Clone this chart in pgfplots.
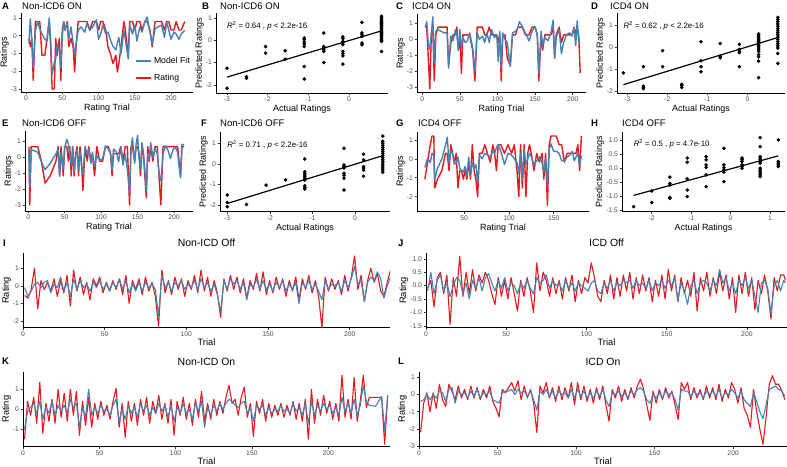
\documentclass[border=0pt]{standalone}
\usepackage{fontspec}
\setmainfont{Liberation Sans}
\usepackage{pgfplots}
\usepackage{pgfplotstable}
\pgfplotsset{compat=1.18}
\definecolor{ratingred}{RGB}{228,26,28}
\definecolor{fitblue}{RGB}{70,130,180}
\definecolor{tickgray}{RGB}{77,77,77}

\tikzset{statlabel/.style={anchor=west, inner sep=0pt, font=\fontsize{7.9}{8}\selectfont}}
\pgfplotsset{
  panel/.style={
    scale only axis, anchor=south west,
    axis lines*=left,
    axis line style={black, line width=0.7bp},
    tick style={black!80, line width=0.6bp},
    major tick length=2.3bp,
    tick align=outside,
    ticklabel style={font=\fontsize{6.8}{7}\selectfont, text=tickgray, inner sep=1.5bp},
    /pgf/number format/assume math mode=true,
    label style={font=\fontsize{9}{10}\selectfont, inner sep=0pt},
    xlabel shift=2bp, ylabel shift=0.6bp,
  },
  wide/.style={panel, label style={font=\fontsize{9.3}{10}\selectfont}, xlabel shift=1bp},
  ratingline/.style={ratingred, line width=1.4bp, line join=round},
  fitline/.style={fitblue, line width=1.4bp, line join=round},
  ratingthin/.style={ratingred, line width=1.1bp, line join=round},
  fitthin/.style={fitblue, line width=1.1bp, line join=round},
  dots/.style={only marks, mark=*, mark size=1.6bp, black},
  regline/.style={black, line width=1.2bp},
}

% trial-by-trial ratings (r) and model fit (f)
\pgfplotstableread{
t r f
4 -0.15 -0.45
6 -0.62 0.95
8 -0.15 -0.2
10 -2.52 -1.8
13 0.8 0.3
16 0.8 0.8
19 0.8 0.4
22 -1.1 0.1
26 -1.1 -0.2
29 -0.15 -0.3
32 0.8 1.0
34 -0.62 -0.2
36 -3.0 -2.2
39 -3.0 -1.5
41 -0.15 -1.3
43 -1.1 -0.5
46 -0.15 -0.8
48 -2.52 -1.8
50 0.32 -0.1
52 0.8 0.8
54 0.32 0.3
57 0.8 0.7
59 -0.62 -0.2
62 -0.15 0.5
65 -0.62 -0.4
67 -2.05 -1.1
69 -0.62 -0.5
72 0.8 0.3
76 0.8 0.5
81 0.8 0.2
84 0.8 0.7
88 0.32 0.3
92 0.8 0.5
97 0.8 0.9
100 0.32 -0.2
103 0.8 0.1
106 0.8 0.6
110 0.32 0.1
113 -0.62 0.2
117 -1.1 -0.3
120 -1.57 -0.6
124 -1.1 -0.8
126 -2.05 -0.4
128 -1.57 -0.1
131 -0.62 -1.0
135 0.8 0.3
137 0.32 -0.2
141 -1.1 -1.3
143 0.8 0.6
147 0.8 0.1
150 0.32 0.6
153 0.8 -0.3
157 0.8 0.5
160 0.32 0.2
164 0.8 0.8
167 0.8 1.05
171 0.32 0.2
174 -0.62 -0.5
178 0.8 0.4
182 0.8 0.5
187 0.8 0.6
191 0.32 -0.1
194 0.8 0.8
197 0.8 0.3
200 0.32 -0.2
204 0.32 0.2
207 0.8 0.1
211 0.32 -0.2
214 0.32 0.1
219 0.8 0.3
}\tabA

\pgfplotstableread{
t r f
4 0.76 0.75
6 0.76 1.1
8 -1.16 -0.3
10 -3.1 -0.6
12 0.28 0.3
14 0.76 1.4
16 -2.6 -1.5
18 0.28 0.5
21 0.76 0.6
25 0.76 0.5
29 0.76 0.4
33 0.76 0.4
35 -1.64 -1.8
38 -0.2 0.2
41 0.28 -0.1
44 0.28 0.6
46 0.76 0.3
48 -0.68 -0.7
50 0.28 0.6
52 -2.12 -0.5
54 0.28 0.1
57 0.28 -0.2
60 0.28 -0.1
63 0.28 0.4
67 -0.68 -0.5
70 -2.6 -2.0
73 0.76 0.4
76 0.76 0.0
80 0.76 0.2
83 0.28 -0.2
86 0.28 0.4
89 0.76 -0.2
92 0.28 0.6
96 0.28 0.1
99 0.28 0.3
101 -0.2 -1.4
103 0.28 0.5
105 -2.6 -1.8
107 0.28 0.4
110 0.28 0.0
113 -1.16 -0.2
117 -1.64 -1.7
120 0.28 0.4
124 0.28 0.5
127 0.76 0.7
129 0.76 1.1
133 0.76 0.8
137 0.28 0.4
142 0.28 -0.1
146 0.76 0.5
150 0.76 0.8
153 0.28 0.2
155 -2.6 -2.1
158 0.28 0.5
160 -0.68 -0.4
163 0.28 0.1
167 0.28 -0.1
171 0.28 0.4
174 0.76 1.2
176 -1.16 -1.2
178 0.28 0.1
182 0.76 0.6
185 -0.2 -0.9
188 0.28 -0.2
192 0.28 0.3
196 0.28 0.4
199 0.28 0.2
202 0.76 0.7
204 0.28 -0.4
206 0.76 1.15
208 0.28 -0.1
210 -2.12 -0.2
}\tabC

\pgfplotstableread{
t r f
1 0.65 0.4
2 -3.0 -1.9
4 0.65 0.45
8 0.65 0.4
13 0.65 0.3
18 -0.26 -0.3
23 -1.63 -0.8
30 -1.18 -0.4
38 -0.26 0.2
41 0.65 0.5
43 -1.18 -1.2
45 0.65 0.3
48 -1.18 -0.8
50 0.65 0.6
53 0.65 1.1
55 -0.26 0.8
57 0.65 0.2
59 -1.18 -0.5
61 0.65 0.6
63 -1.18 -0.9
65 0.2 0.1
67 0.65 0.5
69 -1.18 -0.8
71 0.65 0.3
73 -0.26 -0.5
75 -2.09 -1.1
78 0.65 0.6
81 -0.26 0.2
83 0.65 0.5
86 -0.26 -0.4
88 0.2 0.3
91 -1.18 -0.6
94 0.65 0.1
98 -0.26 -0.2
102 -0.26 -0.1
106 0.65 0.7
110 0.65 0.5
113 0.2 0.2
115 -1.18 -0.8
117 0.2 0.5
121 0.2 0.3
124 0.2 -0.3
127 0.65 0.6
130 -0.26 -0.5
133 0.65 0.2
136 0.65 -0.8
139 -3.0 -2.2
141 0.65 0.5
143 0.65 1.2
146 -0.26 -0.4
148 0.65 0.8
150 0.65 1.35
152 0.2 0.0
154 -1.18 -0.8
156 0.65 0.9
158 0.2 0.3
160 -1.18 -0.8
162 -2.55 -2.1
164 0.65 0.2
166 -0.26 -0.2
168 0.65 0.9
171 -0.26 0.0
174 0.65 0.5
177 0.65 0.2
180 -1.63 -1.2
182 -3.0 -1.5
185 0.65 0.2
188 0.65 0.7
192 0.65 0.4
195 0.65 -0.1
199 0.65 0.5
202 0.65 0.6
205 0.65 0.3
207 -0.26 -0.6
209 -1.18 -1.3
211 0.65 0.8
214 0.65 0.75
}\tabE

\pgfplotstableread{
t r f
6 -1.08 -0.45
9 -0.17 0.0
12 0.75 -0.2
14 1.21 0.3
16 1.21 0.2
17 -1.54 -1.1
20 -1.08 -0.5
25 -0.62 0.0
29 0.29 0.7
31 0.29 1.15
33 -0.62 -0.2
35 0.75 0.4
37 0.29 0.3
39 -0.17 -0.3
41 0.29 -0.2
43 -1.54 0.1
45 -0.62 -0.5
47 -0.62 -0.6
49 -1.08 -0.7
51 -0.62 -0.4
53 -1.08 -0.9
55 -0.17 0.1
57 -1.08 -0.9
59 0.75 -0.2
61 -0.62 -0.5
63 -1.08 -0.3
65 -2.0 -1.3
67 0.29 0.2
70 0.29 0.0
73 0.75 0.3
76 0.29 0.2
79 -0.17 0.1
82 0.75 0.4
84 0.29 0.3
86 -0.62 0.6
88 0.75 0.75
91 0.75 0.4
95 0.29 -0.3
99 0.75 0.3
103 0.29 0.2
106 0.75 0.0
109 -0.62 -0.2
111 -2.0 -0.8
113 0.75 0.3
115 -1.54 -1.1
117 0.75 0.5
119 -2.0 -0.3
121 0.29 0.0
123 0.75 0.3
125 0.29 0.1
128 -0.62 -0.3
131 0.29 -0.1
134 -0.17 0.1
137 0.29 -0.2
139 -1.08 -0.7
141 0.29 0.0
143 -2.46 -1.4
145 0.75 0.5
147 1.21 0.8
150 1.21 0.4
153 1.21 0.4
156 0.75 0.3
159 0.75 -0.1
162 -0.17 -0.1
165 0.29 0.1
168 0.29 0.2
171 0.29 0.4
173 0.29 -0.1
175 0.29 0.1
177 0.75 0.3
179 -0.62 -0.3
181 1.21 0.15
}\tabG

\pgfplotstableread{
t r f
1 -0.55 -0.1
3 -0.7 -0.6
5 -0.2 -0.3
7 1.0 0.1
9 -1.3 0.2
11 0.3 -0.1
13 -0.2 0.2
15 0.2 0.3
17 -0.3 -0.4
19 0.4 0.1
21 -0.6 -0.1
23 0.3 0.5
25 -0.4 -0.3
27 0.6 0.2
29 -1.15 -0.6
31 0.9 0.4
33 -0.3 -0.2
35 0.5 0.3
37 -0.5 -0.1
39 0.2 0.1
41 -0.8 -0.3
43 0.4 0.2
45 0.0 -0.1
47 0.5 0.3
49 -0.4 -0.2
51 0.2 0.1
53 -0.3 -0.3
55 0.3 0.2
57 -0.2 -0.1
59 0.4 0.4
61 -0.5 -0.2
63 0.6 0.3
65 -1.0 -0.4
67 0.3 0.1
69 -0.2 -0.3
71 0.4 0.2
73 -0.5 -0.3
75 0.5 0.2
77 -0.3 -0.1
79 0.2 0.1
81 -0.6 -0.2
83 -2.3 -1.7
85 0.9 0.6
87 -0.4 -0.1
89 0.3 0.2
91 -0.5 -0.3
93 0.5 0.2
95 -0.2 0.0
97 0.4 0.3
99 -0.6 -0.2
101 0.3 0.1
103 -0.2 -0.1
105 0.6 0.3
107 -0.4 -0.2
109 0.9 0.4
111 -0.3 -0.1
113 0.5 0.2
115 -0.6 -0.3
117 0.3 0.1
119 -0.4 -0.5
121 -1.8 -1.5
123 0.4 0.3
125 -0.3 -0.2
127 0.6 0.4
129 -0.2 0.1
131 0.5 0.3
133 -0.4 -0.2
135 0.4 0.2
137 -0.7 -0.8
139 0.3 0.1
141 -0.2 -0.1
143 0.7 0.4
145 -0.3 -0.2
147 0.8 0.3
149 -0.5 -0.2
151 0.3 0.1
153 -0.4 -0.3
155 0.5 0.2
157 -0.2 -0.1
159 0.4 0.3
161 -0.6 -0.3
163 0.3 0.1
165 -0.3 -0.2
167 0.5 0.2
169 -0.8 -1.0
171 0.4 0.2
173 -0.2 -0.1
175 0.6 0.3
177 -0.4 -0.2
179 0.3 0.1
181 -0.6 -0.3
183 -2.4 -0.8
185 0.5 0.3
187 -0.3 -0.2
189 0.4 0.1
191 -0.2 0.0
193 0.3 0.2
195 -0.5 -0.3
197 0.6 0.3
199 -0.3 -0.1
201 0.5 0.4
203 1.7 1.1
205 -0.2 0.1
207 0.6 0.3
209 -0.9 -0.9
211 0.3 0.2
213 1.0 0.5
215 0.2 0.3
217 0.7 0.8
219 -0.3 0.4
221 -0.6 -0.7
223 0.2 0.0
225 0.9 0.5
}\tabI

\pgfplotstableread{
t r f
1 -0.1 -0.2
3 0.2 0.5
5 -0.8 -0.3
7 0.3 0.2
9 0.5 0.4
11 -0.3 -0.2
13 0.4 0.1
15 -1.45 -0.4
17 0.3 0.0
19 -0.4 0.3
21 1.1 0.2
23 -0.4 -0.3
25 0.5 0.1
27 -0.3 -0.5
29 0.6 0.2
31 -0.2 -0.1
33 0.4 0.3
35 0.1 -0.2
37 0.5 0.3
39 0.2 0.45
41 -0.3 0.1
43 -0.7 -0.2
45 0.3 0.2
47 -0.4 -0.1
49 0.2 0.3
51 -0.5 -0.2
53 0.3 0.1
55 -0.3 0.0
57 -0.95 -0.3
59 0.2 0.1
61 -0.4 -0.1
63 0.3 0.2
65 -0.2 -0.1
67 -1.0 -0.3
69 0.85 0.3
71 -0.2 0.1
73 0.5 0.2
75 0.2 0.4
77 -0.4 -0.1
79 0.3 0.2
81 -0.3 0.0
83 0.2 0.1
85 -0.5 -0.2
87 0.3 0.2
89 -0.2 -0.1
91 0.4 0.1
93 -0.6 -0.2
95 0.2 0.1
97 -0.3 0.0
99 0.3 -0.1
101 0.1 -0.2
103 0.85 0.1
105 0.3 0.2
107 -0.4 -0.2
109 -0.6 -0.3
111 0.2 0.1
113 -0.3 -0.1
115 0.4 0.2
117 -0.5 -0.2
119 0.3 0.1
121 -0.4 0.0
123 0.4 0.2
125 -0.2 0.1
127 0.5 0.2
129 -0.5 -0.1
131 0.3 0.2
133 -0.3 0.0
135 0.4 0.1
137 -0.2 -0.1
139 0.3 0.2
141 -0.6 -0.2
143 0.2 0.1
145 -0.4 0.0
147 0.4 0.2
149 -0.5 -0.1
151 0.6 0.2
153 -0.2 0.0
155 0.4 0.3
157 -0.6 -0.55
159 0.3 0.1
161 -0.3 -0.2
163 0.2 -0.7
165 -0.4 0.0
167 0.5 0.2
169 -0.95 -0.3
171 0.3 0.1
173 -0.2 0.2
175 0.5 0.1
177 -0.4 -0.2
179 0.3 0.2
181 -0.3 0.0
183 0.5 0.6
185 -0.2 0.1
187 0.4 0.3
189 -0.5 -0.2
191 0.3 0.1
193 -1.0 -0.3
195 0.4 0.2
197 -0.3 0.0
199 0.5 0.3
201 -0.4 -0.1
203 0.3 0.2
205 -0.9 -0.4
207 0.2 -1.0
209 -0.3 0.1
211 0.4 0.2
213 -0.2 -0.1
215 -1.25 -1.05
217 0.3 0.0
219 -0.2 0.2
221 0.4 -0.2
223 0.4 0.2
224 0.2 0.1
}\tabJ

\pgfplotstableread{
t r f
1 -1.5 -1.0
3 0.4 -0.1
5 -0.3 0.1
7 0.6 0.3
9 -0.7 -0.2
11 1.35 0.4
13 -1.2 -0.5
15 0.3 0.1
17 -0.6 -0.2
19 0.5 0.4
21 -0.7 -0.3
23 1.0 0.2
25 -0.4 -0.1
27 0.8 0.2
29 -0.6 -0.2
31 1.0 0.5
33 -0.3 0.1
35 0.9 0.3
37 -1.3 -0.9
39 0.4 0.1
41 -0.8 -0.4
43 0.6 1.0
45 -0.9 -0.3
47 0.3 0.1
49 -0.5 -0.2
51 0.4 0.2
53 -0.3 -0.1
55 0.2 0.0
57 -0.5 -0.3
59 0.4 0.2
61 1.05 0.5
63 -0.9 -0.6
65 0.3 0.0
67 -1.4 -0.5
69 0.4 0.2
71 -0.6 -0.2
73 0.3 0.1
75 -0.8 -0.4
77 0.5 0.3
79 -0.3 -0.1
81 0.6 0.2
83 -0.7 -0.3
85 0.4 0.1
87 -0.2 -0.2
89 0.7 0.3
91 -0.5 -0.1
93 0.3 0.2
95 -0.7 -0.4
97 0.5 0.2
99 -1.3 -0.6
101 0.4 0.1
103 -0.3 -0.2
105 0.6 0.3
107 -0.5 -0.2
109 0.3 0.0
111 -0.8 -0.5
113 0.5 0.3
115 -0.4 -0.1
117 0.9 0.4
119 -0.6 -0.9
121 0.3 0.1
123 -0.5 -0.3
125 0.5 0.2
127 -0.3 -0.1
129 0.4 0.3
131 -0.2 0.0
133 0.6 0.3
135 1.2 0.5
137 0.3 0.4
139 0.5 0.2
141 -0.3 0.1
143 0.6 0.3
145 1.1 0.4
147 -0.4 -0.2
149 0.3 0.1
151 -1.35 -0.6
153 0.4 0.2
155 -0.2 0.0
157 0.5 0.2
159 -0.6 -0.3
161 0.3 0.1
163 -0.4 -0.2
165 0.2 0.0
167 -0.3 -0.1
169 0.3 0.2
171 -0.4 -0.1
173 0.2 0.0
175 -0.3 -0.2
177 0.4 0.3
179 -0.5 -0.1
181 0.3 0.1
183 -0.6 -0.3
185 0.5 0.3
187 -1.5 -0.7
189 1.0 0.4
191 -0.7 -0.3
193 0.5 0.2
195 -0.3 -0.1
197 0.7 0.3
199 -0.2 0.0
201 0.4 0.2
203 -0.5 -0.2
205 0.3 0.1
207 -0.6 -0.3
209 1.7 0.6
211 -0.4 -0.1
213 0.5 0.3
215 -0.5 -0.2
217 1.6 0.5
219 -0.6 -0.3
221 0.4 0.2
223 1.7 1.2
225 0.1 0.4
227 0.6 0.2
231 0.6 0.15
235 0.6 0.65
237 -1.75 -1.1
239 0.7 0.7
}\tabK

\pgfplotstableread{
t r f
1 -2.2 -0.4
3 -0.5 -0.3
5 0.1 0.0
7 -1.0 -0.3
9 0.1 0.0
11 -0.8 -0.2
13 0.6 0.2
15 -0.3 0.1
17 -0.7 -0.4
19 0.6 0.3
21 0.2 0.4
23 -0.3 -0.5
25 0.5 0.2
27 -0.2 0.0
29 0.3 0.1
31 -0.3 -0.2
33 0.5 0.2
35 -0.2 -0.1
37 0.4 0.3
39 -0.3 -0.2
41 0.3 0.1
43 -0.2 0.0
45 0.5 0.2
47 -0.4 -0.3
49 -0.8 -0.4
51 -1.3 -0.5
53 0.3 0.1
55 0.1 0.2
57 0.4 0.2
59 0.7 0.3
61 0.2 0.0
63 0.8 0.3
65 -0.3 0.1
67 0.5 0.2
69 -0.2 -0.1
71 0.3 0.2
73 -0.5 -0.3
75 -2.2 -0.9
77 0.5 0.2
79 0.1 0.0
81 0.7 0.3
83 -0.2 -0.1
85 0.4 0.2
87 -0.4 -0.2
89 0.5 0.2
91 -0.3 0.0
93 0.4 0.1
95 -0.2 -0.2
97 0.7 0.3
99 -0.6 -0.2
101 0.7 0.3
103 -0.3 -0.1
105 0.5 0.2
107 -0.4 -0.2
109 0.3 0.1
111 -0.5 -0.2
113 0.4 0.2
115 -0.3 -0.1
117 0.5 0.3
119 -0.6 -0.3
121 -1.55 -0.7
123 0.3 0.1
125 -0.2 0.0
127 0.5 0.2
129 -0.4 -0.1
131 0.3 0.1
133 -0.3 -0.2
135 0.4 0.2
137 -0.2 0.0
139 0.5 0.3
141 0.9 0.4
143 0.3 0.2
145 -0.6 -0.3
147 -1.5 -0.5
149 0.2 0.0
151 -0.5 -0.2
153 0.3 0.1
155 -0.3 -0.2
157 0.4 0.2
159 -0.2 0.0
161 0.2 0.1
163 -0.6 -0.3
165 -1.45 -0.9
167 0.7 0.3
169 0.3 0.2
171 0.7 0.2
173 -0.3 -0.1
175 0.4 0.2
177 -0.2 0.0
179 0.3 0.1
181 -0.3 -0.2
183 0.5 0.2
185 -0.2 0.0
187 0.4 0.2
189 -0.3 -0.1
191 0.6 0.3
193 -0.4 -0.2
195 0.3 0.1
197 -0.2 0.0
199 0.7 0.3
201 0.3 0.1
203 -0.5 -0.2
205 0.4 0.2
207 -0.8 -0.3
209 -1.2 -0.5
211 -1.9 -0.7
213 0.3 0.1
215 -1.0 -0.4
217 -2.0 -1.0
219 -2.9 -1.4
221 -1.3 -0.6
223 0.6 0.3
225 1.1 0.4
227 0.6 0.5
229 0.6 0.3
231 0.2 0.2
233 -0.3 -0.1
}\tabL

\begin{document}
\begin{tikzpicture}
\useasboundingbox (0bp,0bp) rectangle (787bp,467bp);

% ---------- row 1 ----------
\begin{axis}[panel, at={(21bp,375bp)}, width=172bp, height=79bp,
  xmin=-6.9, xmax=230.3, ymin=-3.17, ymax=1.28,
  xtick={0,50,100,150,200}, ytick={-3,-2,-1,0,1},
  xlabel={Rating Trial}, ylabel={Ratings},
  legend style={draw=none, fill=none, at={(0.663,0.47)}, anchor=north west,
    font=\fontsize{8.7}{9}\selectfont, row sep=5bp, inner sep=0pt,
    cells={anchor=west}},
  legend image code/.code={\draw[#1, line width=1.8bp] (0bp,0bp) -- (15bp,0bp);}]
\addlegendimage{fitline}\addlegendentry{Model Fit}
\addlegendimage{ratingline}\addlegendentry{Rating}
\addplot[ratingline, forget plot] table[x=t, y=r]{\tabA};
\addplot[fitline, forget plot] table[x=t, y=f]{\tabA};
\end{axis}

\begin{axis}[panel, at={(216bp,374bp)}, width=172bp, height=80bp,
  xmin=-3.27, xmax=0.96, ymin=-2.36, ymax=1.22,
  xtick={-3,-2,-1,0}, ytick={-2,-1,0,1},
  xlabel={Actual Ratings}, ylabel={Predicted Ratings}]
\addplot[dots] coordinates {
(-3,-1.25) (-3,-2.15) (-2.52,-1.63) (-2.52,-1.7) (-2.05,-0.28) (-2.05,-0.58)
(-1.57,-0.47) (-1.57,-0.85)
(-1.1,0.1) (-1.1,0.03) (-1.1,-0.08) (-1.1,-0.17) (-1.1,-0.28) (-1.1,-1.17) (-1.1,-1.73)
(-0.62,0.32) (-0.62,-0.28) (-0.62,-0.35) (-0.62,-0.43) (-0.62,-0.5) (-0.62,-1.0)
(-0.15,0.15) (-0.15,0.07) (-0.15,-0.05) (-0.15,-0.12) (-0.15,-0.2) (-0.15,-0.5) (-0.15,-0.6) (-0.15,-0.7) (-0.15,-1.07)
(0.32,0.8) (0.32,0.33) (0.32,0.25) (0.32,0.17) (0.32,-0.12) (0.32,-0.2)
(0.8,1.07) (0.8,1.0) (0.8,0.95) (0.8,0.9) (0.8,0.85) (0.8,0.8) (0.8,0.75) (0.8,0.7) (0.8,0.65) (0.8,0.6)
(0.8,0.55) (0.8,0.5) (0.8,0.45) (0.8,0.4) (0.8,0.35) (0.8,0.3) (0.8,0.25) (0.8,0.2) (0.8,0.15) (0.8,0.1)
(0.8,0.05) (0.8,0.0) (0.8,-0.05) (0.8,-0.5)};
\addplot[regline] coordinates {(-3,-1.65) (0.8,0.42)};
\node[statlabel] at (axis cs:-3,0.64) {\textit{R}\textsuperscript{2} = 0.64 , \textit{p} < 2.2e-16};
\end{axis}

\begin{axis}[panel, at={(417bp,374.4bp)}, width=169bp, height=78.6bp,
  xmin=-7, xmax=217.7, ymin=-3.33, ymax=1.58,
  xtick={0,50,100,150,200}, ytick={-3,-2,-1,0,1},
  xlabel={Rating Trial}, ylabel={Ratings}]
\addplot[ratingline] table[x=t, y=r]{\tabC};
\addplot[fitline] table[x=t, y=f]{\tabC};
\end{axis}

\begin{axis}[panel, at={(617bp,374bp)}, width=168bp, height=80bp,
  xmin=-3.26, xmax=0.94, ymin=-2.1, ymax=1.55,
  xtick={-3,-2,-1,0}, ytick={-2,-1,0,1},
  xlabel={Actual Ratings}, ylabel={Predicted Ratings}]
\addplot[dots] coordinates {
(-3.1,-1.18) (-2.6,-0.9) (-2.6,-1.79) (-2.6,-1.85) (-2.6,-1.9) (-2.12,-0.17) (-2.12,-0.9)
(-1.64,-1.7) (-1.64,-1.76) (-1.64,-1.85)
(-1.16,0.24) (-1.16,-0.63) (-1.16,-0.9) (-1.16,-1.13)
(-0.68,0.16) (-0.68,-0.42) (-0.68,-0.49)
(-0.2,0.12) (-0.2,-0.11) (-0.2,-0.19) (-0.2,-0.26) (-0.2,-0.9)
(0.28,0.6) (0.28,0.55) (0.28,0.5) (0.28,0.45) (0.28,0.4) (0.28,0.35) (0.28,0.3) (0.28,0.25) (0.28,0.2) (0.28,0.15)
(0.28,0.1) (0.28,0.05) (0.28,0) (0.28,-0.05) (0.28,-0.12) (0.28,-0.2) (0.28,-0.35) (0.28,-0.45) (0.28,-0.65) (0.28,-1.4)
(0.76,1.35) (0.76,1.25) (0.76,1.15) (0.76,1.05) (0.76,0.95) (0.76,0.85) (0.76,0.75) (0.76,0.65) (0.76,0.55)
(0.76,0.45) (0.76,0.35) (0.76,0.25) (0.76,0.15) (0.76,0.05) (0.76,-0.05) (0.76,-0.3) (0.76,-0.75)};
\addplot[regline] coordinates {(-3.1,-1.72) (0.76,0.43)};
\node[statlabel] at (axis cs:-3.1,0.95) {\textit{R}\textsuperscript{2} = 0.62 , \textit{p} < 2.2e-16};
\end{axis}

% ---------- row 2 ----------
\begin{axis}[panel, at={(25bp,256bp)}, width=168bp, height=80bp,
  xmin=-4.5, xmax=226.1, ymin=-3.375, ymax=1.625,
  xtick={0,50,100,150,200}, ytick={-3,-2,-1,0,1},
  xlabel={Rating Trial}, ylabel={Ratings}]
\addplot[ratingline] table[x=t, y=r]{\tabE};
\addplot[fitline] table[x=t, y=f]{\tabE};
\end{axis}

\begin{axis}[panel, at={(220bp,255.3bp)}, width=170bp, height=79.7bp,
  xmin=-3.17, xmax=0.82, ymin=-2.32, ymax=1.55,
  xtick={-3,-2,-1,0}, ytick={-2,-1,0,1},
  xlabel={Actual Ratings}, ylabel={Predicted Ratings}]
\addplot[dots] coordinates {
(-3,-1.51) (-3,-1.87) (-3,-2.08) (-2.55,-1.97) (-2.09,-1.03) (-1.63,-0.78)
(-1.18,0.24) (-1.18,-0.38) (-1.18,-0.46) (-1.18,-0.54) (-1.18,-0.62) (-1.18,-0.7) (-1.18,-0.78) (-1.18,-1.06) (-1.18,-1.15) (-1.18,-1.22)
(-0.26,0.76) (-0.26,-0.05) (-0.26,-0.13) (-0.26,-0.2) (-0.26,-0.45) (-0.26,-0.55) (-0.26,-0.7) (-0.26,-1.27)
(0.2,0.47) (0.2,0.2) (0.2,-0.13) (0.2,-0.2) (0.2,-0.3) (0.2,-0.6)
(0.65,1.35) (0.65,1.1) (0.65,1.0) (0.65,0.9) (0.65,0.8) (0.65,0.7) (0.65,0.6) (0.65,0.5) (0.65,0.4)
(0.65,0.3) (0.65,0.2) (0.65,0.1) (0.65,0.0) (0.65,-0.1) (0.65,-0.2) (0.65,-0.3) (0.65,-0.4)};
\addplot[regline] coordinates {(-3,-1.92) (0.65,0.4)};
\node[statlabel] at (axis cs:-3,0.92) {\textit{R}\textsuperscript{2} = 0.71 , \textit{p} < 2.2e-16};
\end{axis}

\begin{axis}[panel, at={(417bp,255.4bp)}, width=172bp, height=79.9bp,
  xmin=-2.8, xmax=189.5, ymin=-2.79, ymax=1.44,
  xtick={50,100,150}, ytick={-2,-1,0,1},
  xlabel={Rating Trial}, ylabel={Ratings}]
\addplot[ratingline] table[x=t, y=r]{\tabG};
\addplot[fitline] table[x=t, y=f]{\tabG};
\end{axis}

\begin{axis}[panel, at={(622bp,255.6bp)}, width=163bp, height=79.4bp,
  xmin=-2.754, xmax=1.38, ymin=-1.55, ymax=1.28,
  xtick={-2,-1,0,1}, ytick={-1.5,-1,-0.5,0,0.5,1},
  yticklabel style={/pgf/number format/.cd, fixed, fixed zerofill, precision=1},
  xlabel={Actual Ratings}, ylabel={Predicted Ratings}]
\addplot[dots] coordinates {
(-2.46,-1.38) (-2.0,-0.82) (-2.0,-1.23)
(-1.54,-0.33) (-1.54,-0.55) (-1.54,-0.61) (-1.54,-1.05) (-1.54,-1.09)
(-1.1,0.35) (-1.1,0.2) (-1.1,-0.39) (-1.1,-0.79) (-1.1,-1.02)
(-0.62,0.4) (-0.62,0.29) (-0.62,0.11) (-0.62,0.02) (-0.62,-0.25) (-0.62,-0.67)
(-0.17,0.7) (-0.17,0.11) (-0.17,0.01) (-0.17,-0.07) (-0.17,-0.15) (-0.17,-0.49)
(0.29,0.35) (0.29,0.29) (0.29,0.23) (0.29,0.11) (0.29,0.05) (0.29,-0.01)
(0.75,1.08) (0.75,0.76) (0.75,0.4) (0.75,0.35) (0.75,0.29) (0.75,0.23) (0.75,0.17) (0.75,-0.01)
(0.75,-0.07) (0.75,-0.13) (0.75,-0.19) (0.75,-0.25) (0.75,-0.31)
(1.21,1.0) (1.21,0.23) (1.21,0.17) (1.21,0.11) (1.21,0.05)};
\addplot[regline] coordinates {(-2.46,-0.98) (1.21,0.43)};
\node[statlabel] at (axis cs:-2.46,0.85) {\textit{R}\textsuperscript{2} = 0.5 , \textit{p} = 4.7e-10};
\end{axis}

% ---------- row 3 ----------
\begin{axis}[wide, at={(23bp,139.3bp)}, width=367bp, height=74.7bp,
  xmin=0, xmax=224.7, ymin=-2.38, ymax=1.87,
  xtick={0,50,100,150,200}, ytick={-2,-1,0,1},
  xlabel={Trial}, ylabel={Rating}]
\addplot[ratingthin] table[x=t, y=r]{\tabI};
\addplot[fitthin] table[x=t, y=f]{\tabI};
\end{axis}

\begin{axis}[wide, at={(426bp,139.3bp)}, width=361bp, height=74.7bp,
  xmin=0, xmax=225, ymin=-1.57, ymax=1.22,
  xtick={0,50,100,150,200}, ytick={-1.5,-1,-0.5,0,0.5,1},
  yticklabel style={/pgf/number format/.cd, fixed, fixed zerofill, precision=1},
  xlabel={Trial}, ylabel={Rating}]
\addplot[ratingthin] table[x=t, y=r]{\tabJ};
\addplot[fitthin] table[x=t, y=f]{\tabJ};
\end{axis}

% ---------- row 4 ----------
\begin{axis}[wide, at={(23bp,20.3bp)}, width=367bp, height=75bp,
  xmin=0, xmax=240.5, ymin=-1.87, ymax=1.88,
  xtick={0,50,100,150,200}, ytick={-1,0,1},
  xlabel={Trial}, ylabel={Rating}]
\addplot[ratingthin] table[x=t, y=r]{\tabK};
\addplot[fitthin] table[x=t, y=f]{\tabK};
\end{axis}

\begin{axis}[wide, at={(419bp,20.3bp)}, width=368bp, height=75bp,
  xmin=0, xmax=234.3, ymin=-3.03, ymax=1.33,
  xtick={0,50,100,150,200}, ytick={-3,-2,-1,0,1},
  xlabel={Trial}, ylabel={Rating}]
\addplot[ratingthin] table[x=t, y=r]{\tabL};
\addplot[fitthin] table[x=t, y=f]{\tabL};
\end{axis}

% ---------- panel tags and titles ----------
\tikzset{tag/.style={anchor=base west, inner sep=0pt, font=\bfseries\fontsize{9.6}{10}\selectfont},
         ttl/.style={anchor=base west, inner sep=0pt, font=\fontsize{9.6}{10}\selectfont},
         cttl/.style={anchor=base, inner sep=0pt, font=\fontsize{10.5}{11}\selectfont}}
\node[tag] at (2bp,457.7bp) {A};   \node[ttl] at (22bp,457.7bp) {Non-ICD6 ON};
\node[tag] at (202bp,457.7bp) {B}; \node[ttl] at (220bp,457.7bp) {Non-ICD6 ON};
\node[tag] at (396bp,457.7bp) {C}; \node[ttl] at (412bp,457.7bp) {ICD4 ON};
\node[tag] at (591bp,457.7bp) {D}; \node[ttl] at (610bp,457.7bp) {ICD4 ON};
\node[tag] at (2bp,340.3bp) {E};   \node[ttl] at (22bp,340.3bp) {Non-ICD6 OFF};
\node[tag] at (201bp,340.3bp) {F}; \node[ttl] at (220bp,340.3bp) {Non-ICD6 OFF};
\node[tag] at (396bp,340.3bp) {G}; \node[ttl] at (418bp,340.3bp) {ICD4 OFF};
\node[tag] at (591bp,340.3bp) {H}; \node[ttl] at (622bp,340.3bp) {ICD4 OFF};
\node[tag] at (3bp,220.3bp) {I};   \node[cttl] at (206.5bp,220bp) {Non-ICD Off};
\node[tag] at (398bp,220.3bp) {J}; \node[cttl] at (606.5bp,220bp) {ICD Off};
\node[tag] at (2bp,102bp) {K};     \node[cttl] at (206.5bp,101.5bp) {Non-ICD On};
\node[tag] at (398bp,102bp) {L};   \node[cttl] at (603bp,101.5bp) {ICD On};
\end{tikzpicture}
\end{document}
